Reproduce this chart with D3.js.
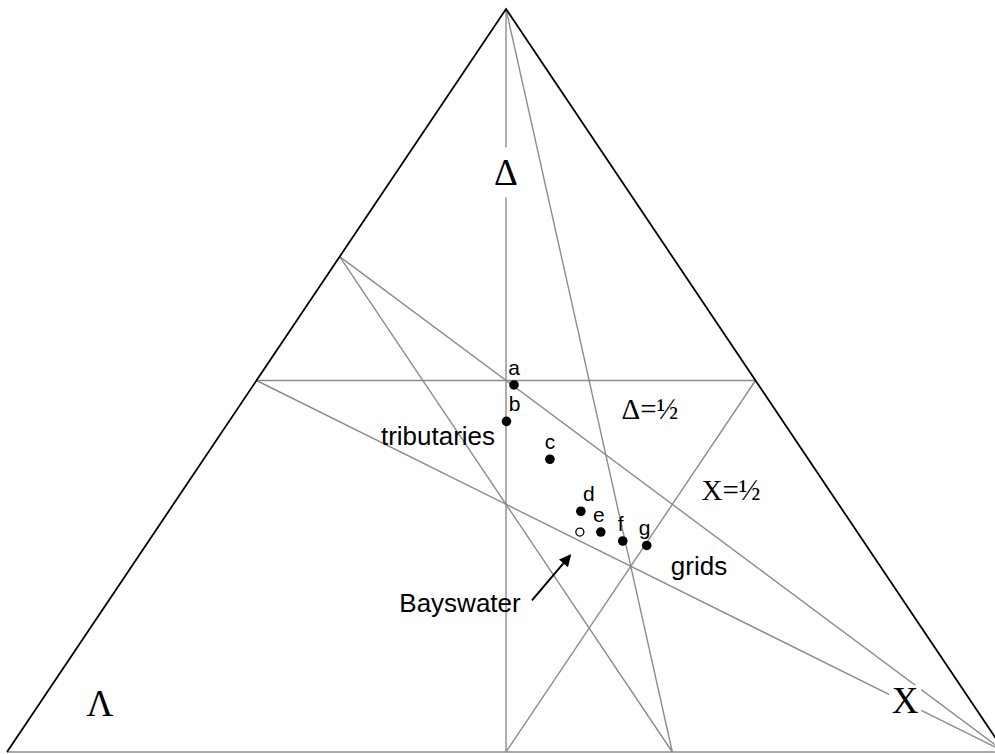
<!DOCTYPE html>
<html>
<head>
<meta charset="utf-8">
<script src="https://cdn.jsdelivr.net/npm/d3@7"></script>
<style>
  html, body { margin: 0; padding: 0; background: #fff; }
  svg { display: block; }
</style>
</head>
<body>
<svg id="chart" width="995" height="754"></svg>
<script>
// Ternary composition of street layouts: Λ (tree-like), Δ (triangular), X (grid)
// Each point is [Λ, Δ, X], summing to 1.
const pointNames = ["a", "b", "c", "d", "e", "f", "g"];
const lambdaVals = [0.245, 0.277, 0.259, 0.263, 0.257, 0.241, 0.220];
const deltaVals  = [0.494, 0.445, 0.394, 0.324, 0.296, 0.284, 0.278];
const xVals      = [0.261, 0.278, 0.347, 0.413, 0.447, 0.475, 0.502];

// Bayswater (open marker)
const bayswater = [0.278, 0.296, 0.426];

// Reference lines, each from one composition to another
const refLines = [
  { from: [0, 1, 0],       to: [0.5, 0, 0.5] },   // Λ = X
  { from: [0.5, 0.5, 0],   to: [0, 0.5, 0.5] },   // Δ = ½
  { from: [0, 0.5, 0.5],   to: [0.5, 0, 0.5] },   // X = ½
  { from: [1/3, 2/3, 0],   to: [1/3, 0, 2/3] },   // Λ = ⅓
  { from: [0, 1, 0],       to: [1/3, 0, 2/3] },   // X = 2Λ
  { from: [1/3, 2/3, 0],   to: [0, 0, 1] },       // Δ = 2Λ
  { from: [0.5, 0.5, 0],   to: [0, 0, 1] }        // Δ = Λ
];

const vertexLabels = [
  { text: "Δ", at: [0.11, 0.78, 0.11] },
  { text: "Λ", at: [0.874, 0.066, 0.06] },
  { text: "X", at: [0.065, 0.07, 0.865] }
];

const svg = d3.select("#chart");

// Cartesian scales: horizontal position u = X + Δ/2, vertical = Δ
const xScale = d3.scaleLinear().domain([0, 1]).range([7, 1005]);
const yScale = d3.scaleLinear().domain([0, 1]).range([752, 9]);
const px = c => xScale(c[2] + c[1] / 2);
const py = c => yScale(c[1]);

const grey = "#8c8c8c";

// reference lines
svg.append("g").selectAll("line").data(refLines).join("line")
  .attr("x1", d => px(d.from)).attr("y1", d => py(d.from))
  .attr("x2", d => px(d.to)).attr("y2", d => py(d.to))
  .attr("stroke", grey).attr("stroke-width", 1.4);

// triangle: bottom edge grey, sloping sides black
const vL = [1, 0, 0], vT = [0, 1, 0], vR = [0, 0, 1];
svg.append("line")
  .attr("x1", px(vL)).attr("y1", py(vL)).attr("x2", px(vR)).attr("y2", py(vR))
  .attr("stroke", grey).attr("stroke-width", 1.6);
svg.append("path")
  .attr("d", d3.line()([[px(vL), py(vL)], [px(vT), py(vT)], [px(vR), py(vR)]]))
  .attr("fill", "none").attr("stroke", "#000").attr("stroke-width", 1.8)
  .attr("stroke-linejoin", "miter");

// vertex labels, cut out of the lines beneath them
const serif = "'Liberation Serif', 'Times New Roman', serif";
const vl = svg.append("g").selectAll("g").data(vertexLabels).join("g")
  .attr("transform", d => `translate(${px(d.at)},${py(d.at)})`);
vl.append("rect")
  .attr("x", d => d.text === "Δ" ? -16 : -16)
  .attr("y", d => d.text === "Δ" ? -25 : -15)
  .attr("width", d => d.text === "Δ" ? 32 : 32)
  .attr("height", d => d.text === "Δ" ? 50 : 30)
  .attr("fill", "#fff");
vl.append("text")
  .attr("text-anchor", "middle").attr("dy", "0.35em")
  .attr("font-family", serif)
  .attr("font-size", 37)
  .text(d => d.text);

// half-line labels
svg.append("text").attr("x", 650).attr("y", 419).attr("text-anchor", "middle")
  .attr("font-family", serif).attr("font-size", 29).text("Δ=½");
svg.append("text").attr("x", 731).attr("y", 500).attr("text-anchor", "middle")
  .attr("font-family", serif).attr("font-size", 29).text("X=½");

// group labels
const sans = "'Liberation Sans', Arial, Helvetica, sans-serif";
svg.append("text").attr("x", 438).attr("y", 445).attr("text-anchor", "middle")
  .attr("font-family", sans).attr("font-size", 26).text("tributaries");
svg.append("text").attr("x", 699).attr("y", 575).attr("text-anchor", "middle")
  .attr("font-family", sans).attr("font-size", 26).text("grids");
svg.append("text").attr("x", 460).attr("y", 612).attr("text-anchor", "middle")
  .attr("font-family", sans).attr("font-size", 26).text("Bayswater");

// arrow pointing to Bayswater
svg.append("defs").append("marker")
  .attr("id", "head").attr("viewBox", "0 0 10 10")
  .attr("refX", 9).attr("refY", 5)
  .attr("markerWidth", 13).attr("markerHeight", 12)
  .attr("markerUnits", "userSpaceOnUse")
  .attr("orient", "auto")
  .append("path").attr("d", "M0,0 L10,5 L0,10 z").attr("fill", "#000");
const arrowTail = [0.372, 0.204, 0.424];
const arrowTip = [0.303, 0.265, 0.432];
svg.append("line")
  .attr("x1", px(arrowTail)).attr("y1", py(arrowTail))
  .attr("x2", px(arrowTip)).attr("y2", py(arrowTip))
  .attr("stroke", "#000").attr("stroke-width", 2)
  .attr("marker-end", "url(#head)");

// composition points
const pts = pointNames.map((n, i) => ({ name: n, c: [lambdaVals[i], deltaVals[i], xVals[i]] }));
const labelNudge = { b: 8, d: 8, e: -2, f: -2, g: -2 };

svg.append("g").selectAll("circle").data(pts).join("circle")
  .attr("cx", d => px(d.c)).attr("cy", d => py(d.c))
  .attr("r", 4.8).attr("fill", "#000");

svg.append("g").selectAll("text").data(pts).join("text")
  .attr("x", d => px(d.c) + (labelNudge[d.name] || 0))
  .attr("y", d => py(d.c) - 10)
  .attr("text-anchor", "middle")
  .attr("font-family", sans).attr("font-size", 21)
  .text(d => d.name);

svg.append("circle")
  .attr("cx", px(bayswater)).attr("cy", py(bayswater))
  .attr("r", 4).attr("fill", "#fff").attr("stroke", "#000").attr("stroke-width", 1.3);
</script>
</body>
</html>
